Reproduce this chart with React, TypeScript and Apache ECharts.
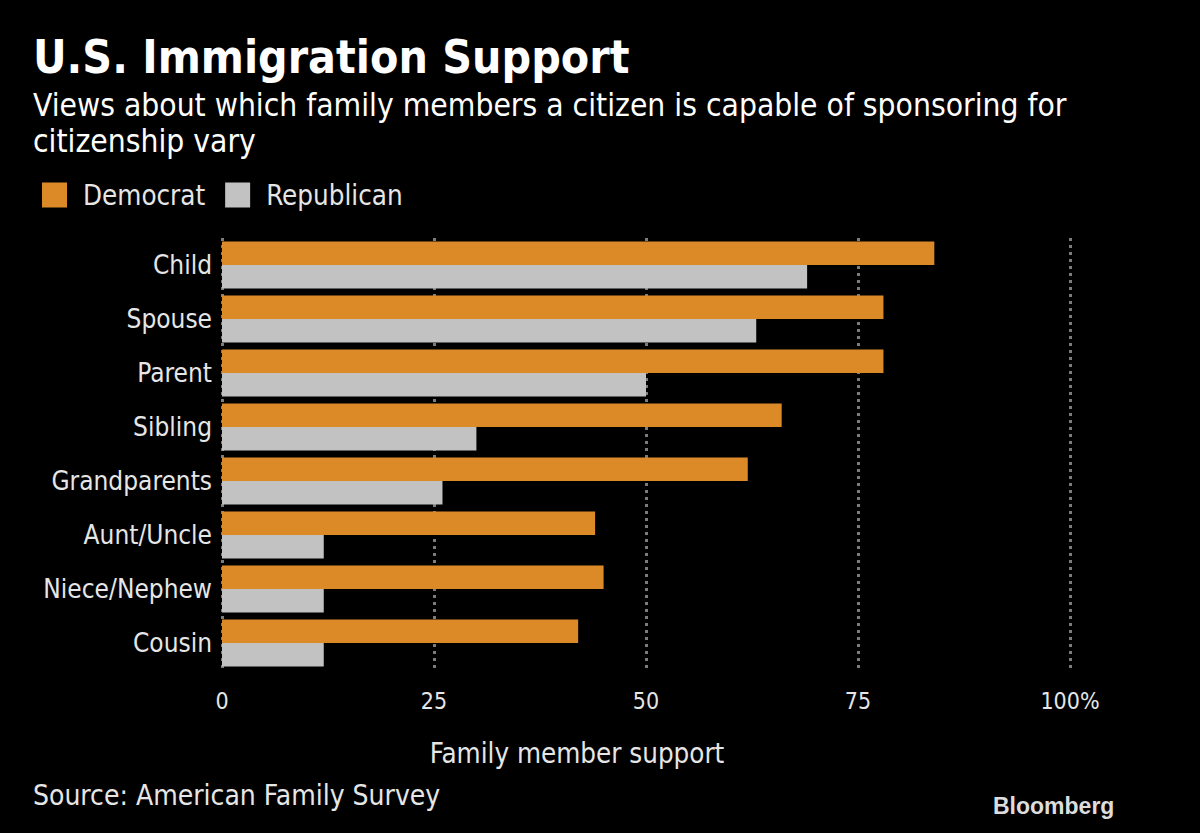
import React, { useEffect, useRef } from "react";
import * as echarts from "echarts";

const categories = ["Child", "Spouse", "Parent", "Sibling", "Grandparents", "Aunt/Uncle", "Niece/Nephew", "Cousin"];
const democrat = [84, 78, 78, 66, 62, 44, 45, 42];
const republican = [69, 63, 50, 30, 26, 12, 12, 12];
const xTicks = [0, 25, 50, 75, 100];

const FONT = "'Liberation Sans Narrow', 'DejaVu Sans Condensed', 'Open Sans', sans-serif";
const ORANGE = "#DC8A28";
const GRAY = "#C2C2C2";
const TEXT = "#E6E6E6";

export default function App() {
  const ref = useRef<HTMLDivElement>(null);
  useEffect(() => {
    if (!ref.current) return;
    const chart = echarts.init(ref.current, null, { renderer: "svg" });
    chart.setOption({
      animation: false,
      backgroundColor: "#000000",
      textStyle: { fontFamily: FONT },
      legend: {
        left: 37,
        top: 176,
        itemWidth: 25,
        itemHeight: 25,
        itemGap: 20,
        icon: "rect",
        textStyle: { color: TEXT, fontSize: 27.5, fontFamily: FONT, padding: [0, 0, 0, 11] },
        data: ["Democrat", "Republican"],
      },
      grid: { left: 222, width: 848, top: 238, height: 432, containLabel: false },
      xAxis: {
        type: "value",
        min: 0,
        max: 100,
        interval: 25,
        axisLine: { show: false },
        axisTick: { show: false },
        splitLine: { show: true, lineStyle: { color: "#7c7c7c", type: [3, 4], width: 3 } },
        axisLabel: {
          color: TEXT,
          fontSize: 23,
          margin: 19,
          fontFamily: FONT,
          formatter: (v: number) => (v === xTicks[xTicks.length - 1] ? v + "%" : String(v)),
        },
      },
      yAxis: {
        type: "category",
        inverse: true,
        data: categories,
        axisLine: { show: false },
        axisTick: { show: false },
        axisLabel: { color: TEXT, fontSize: 26, margin: 10, fontFamily: FONT },
      },
      series: [
        {
          name: "Democrat",
          type: "bar",
          data: democrat,
          itemStyle: { color: ORANGE },
          barGap: "0%",
          barCategoryGap: "13%",
        },
        {
          name: "Republican",
          type: "bar",
          data: republican,
          itemStyle: { color: GRAY },
          barGap: "0%",
          barCategoryGap: "13%",
        },
      ],
      graphic: [
        {
          type: "text",
          left: 33,
          top: 34,
          style: { text: "U.S. Immigration Support", fill: "#FFFFFF", font: `bold 46px ${FONT}` },
        },
        {
          type: "text",
          left: 33,
          top: 87,
          style: {
            text: "Views about which family members a citizen is capable of sponsoring for\ncitizenship vary",
            fill: "#FFFFFF",
            font: `31.5px ${FONT}`,
            lineHeight: 36,
          },
        },
        {
          type: "text",
          x: 577,
          y: 753,
          style: { text: "Family member support", fill: TEXT, font: `27.5px ${FONT}`, align: "center", verticalAlign: "middle" },
        },
        {
          type: "text",
          left: 33,
          top: 781,
          style: { text: "Source: American Family Survey", fill: TEXT, font: `28px ${FONT}` },
        },
        {
          type: "text",
          left: 993,
          top: 794,
          style: { text: "Bloomberg", fill: "#DDDDDD", font: `bold 23px 'Liberation Sans', Arial, sans-serif` },
        },
      ],
    });
    return () => chart.dispose();
  }, []);
  return <div ref={ref} style={{ position: "fixed", left: 0, top: 0, width: 1200, height: 833 }} />;
}
